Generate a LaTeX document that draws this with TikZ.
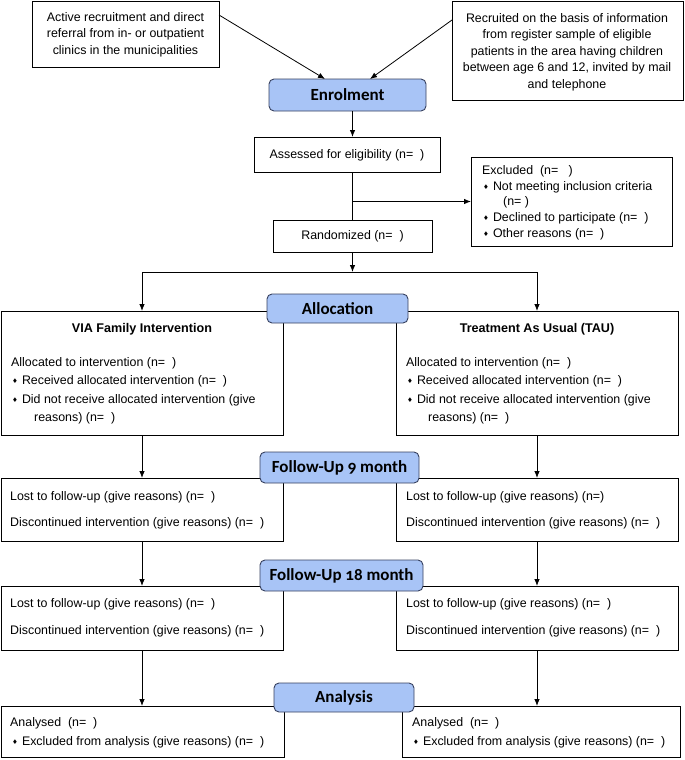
\documentclass[tikz,border=0pt]{standalone}
\usepackage{fontspec}
\setmainfont{Liberation Sans}
\newfontfamily\hdrfont[Numbers=OldStyle]{Carlito}
\newfontfamily\symfont{DejaVu Sans}
\usetikzlibrary{arrows.meta}
\definecolor{hdrfill}{RGB}{168,196,246}
\definecolor{hdrdraw}{RGB}{55,65,95}
\newcommand\bul{{\symfont\fontsize{6.5}{6.5}\selectfont\raisebox{1pt}{♦}}\hspace{4pt}}
\begin{document}
\begin{tikzpicture}[x=1pt,y=-1pt,
  box/.style={draw=black, line width=0.8pt, fill=white, anchor=north west, inner sep=0pt, outer sep=0pt},
  hdr/.style={draw=hdrdraw, line width=0.9pt, fill=hdrfill, rounded corners=5pt, anchor=north west,
    inner sep=0pt, outer sep=0pt, font=\hdrfont\bfseries\fontsize{17}{17}\selectfont},
  txt/.style={anchor=west, inner sep=0pt, font=\fontsize{12.4}{14}\selectfont},
  ctxt/.style={anchor=center, inner sep=0pt, align=center, font=\fontsize{12.4}{16.4}\selectfont},
  btxt/.style={anchor=center, inner sep=0pt, font=\bfseries\fontsize{12.6}{14}\selectfont},
  arr/.style={line width=0.8pt, -{Latex[length=7pt,width=5.5pt]}},
  ln/.style={line width=0.8pt}]
\useasboundingbox (0,0) rectangle (685,760);

% source boxes
\node[box, minimum width=187pt, minimum height=66pt] (srcL) at (32,1) {};
\node[ctxt] (srcLt) at (125.5,34.5) {Active recruitment and direct\\referral from in- or outpatient\\clinics in the municipalities};
\node[box, minimum width=231pt, minimum height=99pt] (srcR) at (452,1) {};
\node[ctxt] (srcRt) at (567,52) {Recruited on the basis of information\\from register sample of eligible\\patients in the area having children\\between age 6 and 12, invited by mail\\and telephone};

% enrolment flow
\node[box, minimum width=186pt, minimum height=35pt] (assess) at (254,137) {};
\node[txt, anchor=center] (assesst) at (347,155) {Assessed for eligibility (n=\ \ )};
\node[box, minimum width=201pt, minimum height=89pt] (excl) at (471,157) {};
\node[txt] (ex1) at (482,171) {Excluded\ \ (n=\ \ \ )};
\node[txt] (ex2) at (483,187) {\bul Not meeting inclusion criteria};
\node[txt] (ex3) at (503,202) {(n= )};
\node[txt] (ex4) at (483,218) {\bul Declined to participate (n=\ \ )};
\node[txt] (ex5) at (483,234) {\bul Other reasons (n=\ \ )};
\node[box, minimum width=159pt, minimum height=32pt] (rand) at (273,220) {};
\node[txt, anchor=center] (randt) at (352.5,236.5) {Randomized (n=\ \ )};

% allocation boxes
\node[box, minimum width=282pt, minimum height=124pt] (gL) at (1,311) {};
\node[btxt] (gLh) at (142,329) {VIA Family Intervention};
\node[txt] (gL1) at (11,363) {Allocated to intervention (n=\ \ )};
\node[txt] (gL2) at (12,381) {\bul Received allocated intervention (n=\ \ )};
\node[txt] (gL3) at (12,400) {\bul Did not receive allocated intervention (give};
\node[txt] (gL4) at (34,418) {reasons) (n=\ \ )};
\node[box, minimum width=282pt, minimum height=124pt] (gR) at (396,311) {};
\node[btxt] (gRh) at (537,329) {Treatment As Usual (TAU)};
\node[txt] (gR1) at (406,363) {Allocated to intervention (n=\ \ )};
\node[txt] (gR2) at (407,381) {\bul Received allocated intervention (n=\ \ )};
\node[txt] (gR3) at (407,400) {\bul Did not receive allocated intervention (give};
\node[txt] (gR4) at (428,418) {reasons) (n=\ \ )};

% follow-up 9
\node[box, minimum width=282pt, minimum height=63pt] (f9L) at (1,478) {};
\node[txt] (f9L1) at (10,497) {Lost to follow-up (give reasons) (n=\ \ )};
\node[txt] (f9L2) at (10,523) {Discontinued intervention (give reasons) (n=\ \ )};
\node[box, minimum width=282pt, minimum height=63pt] (f9R) at (396,478) {};
\node[txt] (f9R1) at (406,497) {Lost to follow-up (give reasons) (n=)};
\node[txt] (f9R2) at (406,523) {Discontinued intervention (give reasons) (n=\ \ )};

% follow-up 18
\node[box, minimum width=282pt, minimum height=64pt] (f18L) at (1,586) {};
\node[txt] (f18L1) at (10,604) {Lost to follow-up (give reasons) (n=\ \ )};
\node[txt] (f18L2) at (10,631) {Discontinued intervention (give reasons) (n=\ \ )};
\node[box, minimum width=282pt, minimum height=64pt] (f18R) at (396,586) {};
\node[txt] (f18R1) at (406,604) {Lost to follow-up (give reasons) (n=\ \ )};
\node[txt] (f18R2) at (406,631) {Discontinued intervention (give reasons) (n=\ \ )};

% analysis
\node[box, minimum width=283pt, minimum height=51pt] (aL) at (1,706) {};
\node[txt] (aL1) at (10,723) {Analysed\ \ (n=\ \ )};
\node[txt] (aL2) at (12,742) {\bul Excluded from analysis (give reasons) (n=\ \ )};
\node[box, minimum width=278pt, minimum height=51pt] (aR) at (402,706) {};
\node[txt] (aR1) at (412,723) {Analysed\ \ (n=\ \ )};
\node[txt] (aR2) at (413,742) {\bul Excluded from analysis (give reasons) (n=\ \ )};

% header boxes
\node[hdr, minimum width=157pt, minimum height=32pt] (enrol) at (269,79) {Enrolment};
\node[hdr, minimum width=141pt, minimum height=29pt] (alloc) at (267,294) {Allocation};
\node[hdr, minimum width=159pt, minimum height=31pt] (fu9) at (260,452) {Follow-Up 9 month};
\node[hdr, minimum width=163pt, minimum height=31pt] (fu18) at (260,560) {Follow-Up 18 month};
\node[hdr, minimum width=140pt, minimum height=29pt] (ana) at (274,683) {Analysis};

% connectors
\draw[arr] ([shift={(0,14)}]srcL.north east) -- ([shift={(56,0)}]enrol.north west);
\draw[arr] ([shift={(0,19)}]srcR.north west) -- ([shift={(101,0)}]enrol.north west);
\draw[arr] (enrol.south -| rand.north) -- (assess.north -| rand.north);
\draw[ln] (assess.south -| rand.north) -- (rand.north);
\draw[arr] (excl.west -| rand.north) -- (excl.west);
\draw[arr] (rand.south) -- ([shift={(0,20)}]rand.south) coordinate (split);
\draw[ln] (split -| gL.north) -- (split -| gR.north);
\draw[arr] (split -| gL.north) -- (gL.north);
\draw[arr] (split -| gR.north) -- (gR.north);
\draw[arr] (gL.south) -- (f9L.north);
\draw[arr] (gR.south) -- (f9R.north);
\draw[arr] (f9L.south) -- (f18L.north);
\draw[arr] (f9R.south) -- (f18R.north);
\draw[arr] (f18L.south) -- (f18L.south |- aL.north);
\draw[arr] (f18R.south) -- (f18R.south |- aR.north);
\end{tikzpicture}
\end{document}
